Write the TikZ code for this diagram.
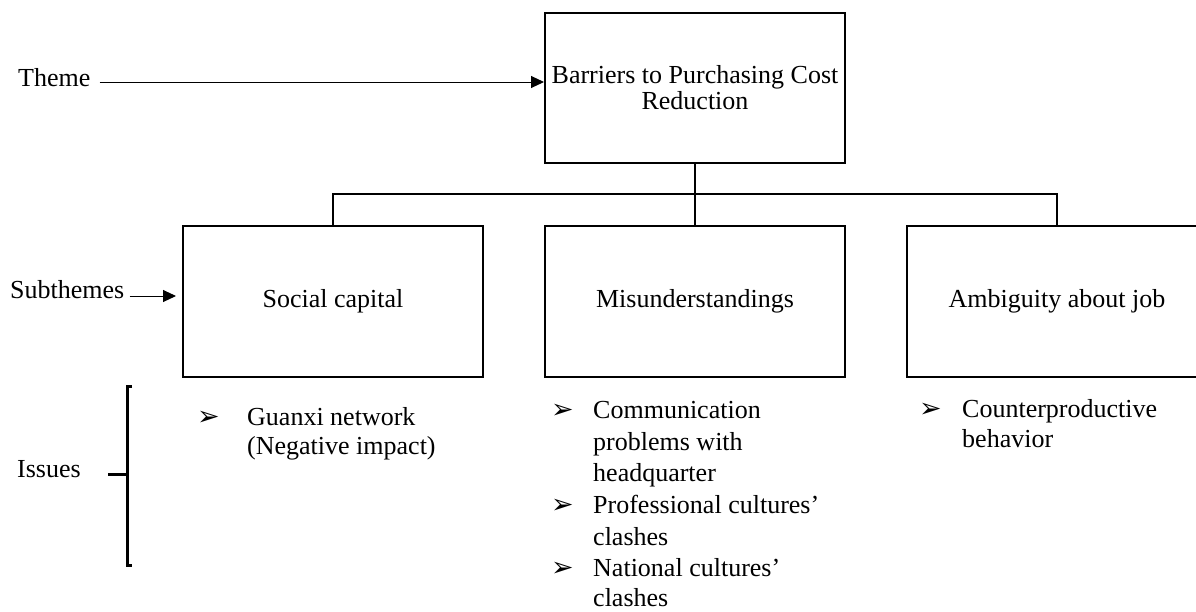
\documentclass[tikz,border=0pt]{standalone}
\usepackage{fontspec}
\setmainfont{Liberation Serif}
\newfontfamily\dingfont{DejaVu Sans}
\usetikzlibrary{arrows.meta}
\begin{document}
\begin{tikzpicture}[x=1pt,y=-1pt,
  every node/.style={font=\fontsize{26}{26}\selectfont, inner sep=0pt},
  box/.style={draw, line width=2pt, minimum width=300pt, minimum height=151pt, align=center},
  link/.style={line width=1.8pt},
  pointer/.style={line width=1pt, -{Triangle[length=13pt,width=12pt]}},
  brace/.style={line width=3pt},
  line/.style={anchor=base west},
  bul/.style={anchor=base west, font=\dingfont\fontsize{27}{27}\selectfont}]
\useasboundingbox (0,0) rectangle (1196,611);
\clip (0,0) rectangle (1196,611);

% theme and subtheme boxes
\node[box, minimum height=150pt] (theme) at (695,88) {Barriers to Purchasing Cost\\Reduction};
\node[box] (social) at (333,301.5) {Social capital};
\node[box] (misu) at (695,301.5) {Misunderstandings};
\node[box] (ambig) at (1057,301.5) {Ambiguity about job};

% tree connectors
\coordinate (bar) at (695,194);
\draw[link] (theme.south) -- (misu.north);
\draw[link] (social.north) -- (social.north |- bar) -- (ambig.north |- bar) -- (ambig.north);

% level labels
\node[line] (lbltheme) at (18,86) {Theme};
\draw[pointer] ([xshift=9pt,yshift=4pt]lbltheme.base east) coordinate (ts) -- (ts -| theme.west);
\node[line] (lblsub) at (10,298) {Subthemes};
\draw[pointer] ([xshift=5pt,yshift=2pt]lblsub.base east) coordinate (ss) -- ([xshift=-6pt]ss -| social.west);
\node[line] (lblissues) at (17,477) {Issues};

% bracket grouping the issues
\coordinate (btop) at (127,386);
\coordinate (bbot) at (127,565);
\coordinate (bmid) at (127,474);
\draw[brace] ([xshift=5pt]btop) -- (btop) -- (bbot) -- ([xshift=5pt]bbot);
\draw[brace] ([xshift=-19pt]bmid) -- (bmid);

% issues under Social capital
\node[bul] (b1) at (197,425) {➢};
\node[line] (g1) at (247,425) {Guanxi network};
\node[line] (g2) at (247,454) {(Negative impact)};

% issues under Misunderstandings
\node[bul] (b2) at (551,418) {➢};
\node[line] (m1) at (593,418) {Communication};
\node[line] (m2) at (593,450) {problems with};
\node[line] (m3) at (593,481) {headquarter};
\node[bul] (b3) at (551,513) {➢};
\node[line] (m4) at (593,513) {Professional cultures’};
\node[line] (m5) at (593,545) {clashes};
\node[bul] (b4) at (551,576) {➢};
\node[line] (m6) at (593,576) {National cultures’};
\node[line] (m7) at (593,606) {clashes};

% issues under Ambiguity about job
\node[bul] (b5) at (919,417) {➢};
\node[line] (a1) at (962,417) {Counterproductive};
\node[line] (a2) at (962,447) {behavior};
\end{tikzpicture}
\end{document}
